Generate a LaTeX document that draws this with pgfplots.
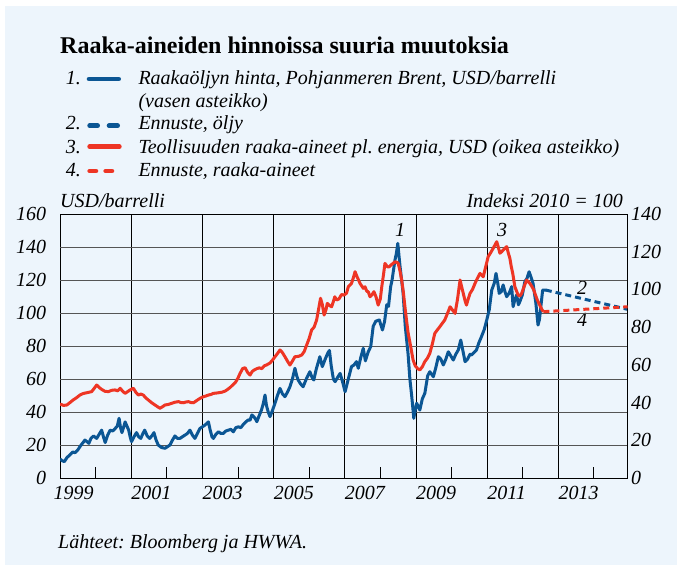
\documentclass[border=0pt]{standalone}
\usepackage{fontspec}
\setmainfont{Liberation Serif}
\usepackage{pgfplots}
\pgfplotsset{compat=1.18}
\definecolor{bgblue}{HTML}{EDF5FC}
\definecolor{oilblue}{HTML}{0B5694}
\definecolor{rawred}{HTML}{EE3524}
\definecolor{gridgray}{HTML}{555555}
\newcommand{\tf}{\fontsize{20}{24}\selectfont\itshape}
\frenchspacing
\begin{document}
\frenchspacing
\begin{tikzpicture}[x=1pt,y=1pt]
\useasboundingbox (0,0) rectangle (677,565);
\fill[bgblue] (5,0) rectangle (677,559);
\node[anchor=base west, inner sep=0] at (60,511.7) {\fontsize{24}{28}\selectfont\bfseries Raaka-aineiden hinnoissa suuria muutoksia};
% legend
\node[anchor=base east, inner sep=0] at (81,480) {\tf 1.};
\node[anchor=base west, inner sep=0] at (138.3,480) {\tf Raakaöljyn hinta, Pohjanmeren Brent, USD/barrelli};
\node[anchor=base west, inner sep=0] at (138.3,457) {\tf (vasen asteikko)};
\node[anchor=base east, inner sep=0] at (81,435) {\tf 2.};
\node[anchor=base west, inner sep=0] at (138.3,435) {\tf Ennuste, öljy};
\node[anchor=base east, inner sep=0] at (81,411.7) {\tf 3.};
\node[anchor=base west, inner sep=0] at (138.3,411.7) {\tf Teollisuuden raaka-aineet pl.\ energia, USD (oikea asteikko)};
\node[anchor=base east, inner sep=0] at (81,388.3) {\tf 4.};
\node[anchor=base west, inner sep=0] at (138.3,388.3) {\tf Ennuste, raaka-aineet};
\begin{scope}[line width=4.8pt, line cap=round]
\draw[oilblue] (89.1,486) -- (118.6,486);
\draw[oilblue] (89.7,439.3) -- (97.6,439.3) (109.1,439.3) -- (117.6,439.3);
\draw[rawred] (89.7,418.3) -- (119.3,418.3);
\draw[rawred] (89.7,394) -- (95.9,394) (105.7,394) -- (111.9,394);
\end{scope}
\node[anchor=base west, inner sep=0] at (60,357) {\tf USD/barrelli};
\node[anchor=base east, inner sep=0] at (623,357) {\tf Indeksi 2010 = 100};
\node[anchor=base west, inner sep=0] at (58,17) {\tf Lähteet:\ Bloomberg ja HWWA.};
% annotations
\node[inner sep=0] at (400,335) {\tf 1};
\node[inner sep=0] at (502,335) {\tf 3};
\node[inner sep=0] at (582,277) {\tf 2};
\node[inner sep=0] at (582,245) {\tf 4};

\begin{axis}[
  at={(60pt,87pt)}, anchor=south west, scale only axis,
  width=567.7pt, height=264pt,
  xmin=1999, xmax=2014.95, ymin=0, ymax=160,
  axis line style={black, line width=0.9pt},
  /pgf/number format/assume math mode=true,
  tick label style={font=\tf},
  xtick={1999,2001,2003,2005,2007,2009,2011,2013},
  xticklabels={\kern-6.5pt 1999,2001,2003,2005,2007,2009,2011,2013},
  xticklabel style={anchor=north west, inner xsep=0pt, yshift=-4.8pt},
  xmajorgrids, major grid style={black, line width=0.8pt},
  major tick length=0pt,
  xtick pos=left, ytick pos=left,
  ytick={0,20,...,160},
  yticklabel style={xshift=-10.3pt},
  extra y ticks={20,40,...,140},
  extra y tick labels={},
  extra y tick style={grid=major, major grid style={gridgray, line width=0.9pt}},
]
\addplot[oilblue, line width=3pt, line join=round] table {
1999.00 11.5
1999.06 10.5
1999.12 9.9
1999.20 12.5
1999.28 14
1999.36 15.8
1999.42 15.3
1999.50 17
1999.56 19
1999.63 21
1999.70 23
1999.76 22
1999.81 21
1999.87 24
1999.94 25.5
2000.03 24
2000.10 26.5
2000.17 29
2000.22 25
2000.27 21.5
2000.34 26
2000.41 29
2000.48 28.5
2000.55 30
2000.61 31.5
2000.66 36.2
2000.70 30.5
2000.74 27.5
2000.79 31
2000.83 34
2000.88 31.5
2000.93 29
2000.97 25
2001.01 22
2001.08 25
2001.15 27.5
2001.21 25
2001.27 24
2001.33 27
2001.38 29
2001.45 25.5
2001.52 24
2001.58 25.5
2001.64 27.5
2001.70 23
2001.76 20
2001.85 18.5
2001.95 18
2002.02 19
2002.09 20
2002.16 23
2002.23 25.5
2002.30 24
2002.37 24
2002.44 25
2002.51 26
2002.58 27
2002.65 29
2002.72 26
2002.79 24
2002.86 27
2002.93 30
2003.00 31
2003.07 32
2003.17 34
2003.22 29
2003.27 25
2003.31 24
2003.38 26.5
2003.45 28
2003.52 27
2003.59 27
2003.66 28.5
2003.73 29
2003.80 29.5
2003.87 28
2003.94 30.5
2004.01 31
2004.08 30.5
2004.15 32.5
2004.22 34
2004.29 35.2
2004.34 35
2004.39 38.2
2004.43 37.5
2004.48 36.2
2004.53 34.1
2004.60 38
2004.66 41.2
2004.71 45
2004.76 50.3
2004.80 44
2004.85 40
2004.90 37.2
2004.97 41
2005.04 45.3
2005.11 50
2005.18 54.3
2005.25 51
2005.32 49.3
2005.39 52
2005.46 55.3
2005.53 60
2005.60 66.5
2005.65 62
2005.69 59.4
2005.76 57
2005.83 55.3
2005.92 60
2006.02 64.4
2006.08 61
2006.13 59.4
2006.20 66
2006.30 73.5
2006.37 67.5
2006.45 72
2006.53 76
2006.57 77.3
2006.62 68
2006.68 60
2006.73 58.4
2006.80 61
2006.87 63.4
2006.93 59
2007.01 52.3
2007.10 60
2007.19 67.5
2007.26 68.5
2007.33 70.5
2007.38 66.5
2007.45 73
2007.52 78.6
2007.58 71
2007.66 76.5
2007.73 79.6
2007.80 92
2007.87 95
2007.97 95.8
2008.06 89.7
2008.12 95
2008.18 105
2008.23 104
2008.29 116
2008.33 120
2008.41 132
2008.45 136
2008.49 142.2
2008.55 129
2008.64 112
2008.70 92
2008.78 75
2008.83 60
2008.88 50
2008.94 36.2
2008.97 40
2009.02 45.3
2009.11 41.2
2009.18 48
2009.25 51.3
2009.33 62
2009.39 64.4
2009.49 61.4
2009.56 67
2009.63 73.5
2009.70 72
2009.77 68.5
2009.84 72
2009.91 76.5
2009.98 74
2010.05 71.5
2010.12 75
2010.19 77.6
2010.26 83.6
2010.33 76
2010.38 70.5
2010.45 72
2010.52 75
2010.56 74.5
2010.63 76
2010.70 77.6
2010.77 82
2010.84 85.6
2010.92 90
2010.99 95.8
2011.06 102
2011.13 113.9
2011.20 118
2011.25 124
2011.30 118
2011.34 111.9
2011.40 113
2011.45 117
2011.50 113
2011.55 109.9
2011.62 112
2011.69 116
2011.73 103.8
2011.78 108
2011.83 110.9
2011.88 105
2011.92 106.9
2011.99 111
2012.06 119
2012.12 121
2012.18 125
2012.23 122
2012.29 118
2012.33 112
2012.37 105.9
2012.43 92.7
2012.47 96
2012.50 101.8
2012.56 113.9
2012.65 113.9
};
\addplot[oilblue, line width=3pt, dash pattern=on 6pt off 4pt] table {
2012.65 113.9
2014.95 102.2
};
\end{axis}

\begin{axis}[
  at={(60pt,87pt)}, anchor=south west, scale only axis,
  width=567.7pt, height=264pt,
  xmin=1999, xmax=2014.95, ymin=0, ymax=140,
  axis y line*=right, axis x line*=bottom,
  axis line style={black, line width=0.9pt},
  /pgf/number format/assume math mode=true,
  tick label style={font=\tf},
  tick align=inside,
  xtick={2000,2002,...,2014}, xticklabels={},
  major tick length=11pt,
  x tick style={black, line width=0.8pt},
  ytick={0,20,...,140},
  y tick style={draw=none},
]
\addplot[rawred, line width=3pt, line join=round] table {
1999.00 39.2
1999.10 38.5
1999.19 38.7
1999.28 40
1999.37 41.4
1999.46 42.5
1999.56 44
1999.65 44.8
1999.75 45.2
1999.89 45.8
1999.96 47.5
2000.03 49.3
2000.10 48
2000.17 47
2000.26 46
2000.36 45.8
2000.45 46.5
2000.55 46.7
2000.62 46.2
2000.69 47.6
2000.76 46
2000.83 44.9
2000.90 45.8
2000.97 46.7
2001.06 47.6
2001.13 45.5
2001.20 44
2001.27 44.5
2001.34 44
2001.41 42.5
2001.48 41.4
2001.57 40
2001.67 38.7
2001.74 37.8
2001.81 37
2001.88 37.8
2001.95 38.7
2002.04 39
2002.14 39.6
2002.23 40.2
2002.33 40.5
2002.40 40
2002.47 39.9
2002.54 40.3
2002.61 40.5
2002.68 40
2002.75 39.9
2002.82 40.8
2002.89 41.7
2002.96 42.5
2003.03 43.1
2003.10 43.5
2003.17 44
2003.24 44.3
2003.31 44.9
2003.38 45
2003.45 45.2
2003.55 45.5
2003.64 46.1
2003.71 47
2003.78 48
2003.86 49.5
2003.94 51
2004.00 53
2004.06 55.5
2004.13 58
2004.20 58.5
2004.27 56
2004.34 54.6
2004.40 56.5
2004.46 57.3
2004.53 58
2004.60 58.4
2004.67 58
2004.74 59.5
2004.81 60
2004.90 61
2004.97 62.5
2005.04 64.3
2005.11 66
2005.18 67.9
2005.25 66.5
2005.32 64.3
2005.39 62
2005.46 59.9
2005.53 62
2005.60 64.3
2005.70 64.5
2005.79 65.2
2005.86 67
2005.93 70.5
2006.00 74
2006.07 78.5
2006.14 80
2006.21 83.8
2006.27 90
2006.32 95.3
2006.37 92
2006.42 86.4
2006.47 89
2006.51 92.6
2006.57 91.5
2006.63 90.8
2006.68 93.5
2006.72 96.1
2006.77 94.4
2006.84 95
2006.91 97.3
2006.98 97
2007.05 98
2007.10 101.4
2007.19 103.2
2007.24 106
2007.29 109.4
2007.34 107
2007.43 103.2
2007.52 100.6
2007.57 101.4
2007.62 99
2007.66 98.8
2007.71 96.1
2007.76 97
2007.82 98.8
2007.88 96
2007.94 91.7
2008.00 95
2008.04 101.4
2008.09 108
2008.13 113.8
2008.20 112
2008.25 112
2008.30 113
2008.36 113.8
2008.41 114.7
2008.50 114
2008.55 110
2008.60 105
2008.65 98
2008.69 91
2008.74 83
2008.78 77
2008.85 70
2008.92 62.6
2008.98 59.5
2009.05 58
2009.11 57.3
2009.18 59
2009.25 61.7
2009.32 63.5
2009.39 66.1
2009.46 71
2009.53 76.7
2009.60 78.5
2009.67 80.2
2009.74 82
2009.81 83.8
2009.88 87
2009.96 90.8
2010.03 89
2010.10 87.3
2010.17 95
2010.24 105
2010.29 101
2010.33 97.9
2010.38 94
2010.42 91.7
2010.47 95
2010.52 97.9
2010.59 100
2010.66 103.2
2010.73 106
2010.80 108.5
2010.85 107.5
2010.89 106.7
2010.96 112
2011.03 117.4
2011.10 119.5
2011.17 121.8
2011.27 125.3
2011.32 122
2011.36 119.2
2011.41 120
2011.45 120.9
2011.50 121.8
2011.55 122.7
2011.60 119
2011.64 116.5
2011.68 112
2011.72 108.5
2011.78 101.4
2011.83 99
2011.87 97
2011.92 96.5
2011.97 97.9
2012.04 101.5
2012.11 105
2012.16 104
2012.20 103.2
2012.26 101.5
2012.31 99.7
2012.36 97
2012.41 94.4
2012.46 92.5
2012.50 90.8
2012.54 89.3
2012.58 88.2
};
\addplot[rawred, line width=3pt, dash pattern=on 6pt off 4pt] table {
2012.58 88.2
2014.95 90.8
};
\end{axis}
\end{tikzpicture}
\end{document}
